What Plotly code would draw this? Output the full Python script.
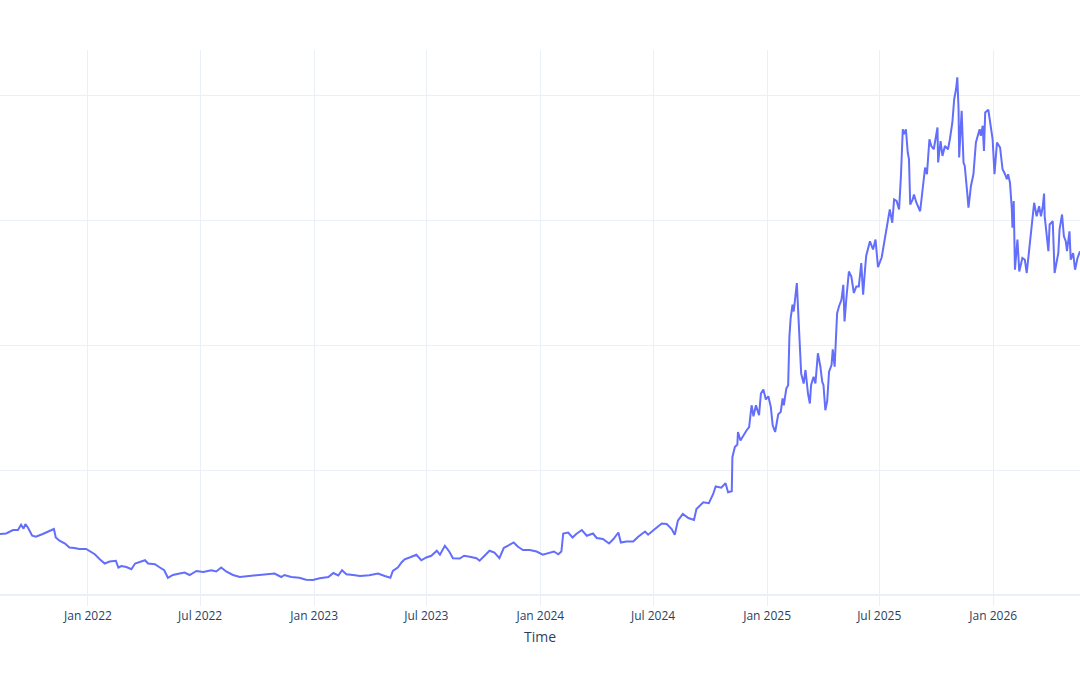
import plotly.graph_objects as go

dates = [
    "2021-08-12", "2021-08-22", "2021-09-02", "2021-09-10", "2021-09-15", "2021-09-19", "2021-09-22", "2021-09-26",
    "2021-10-03", "2021-10-09", "2021-10-20", "2021-10-31", "2021-11-07", "2021-11-10", "2021-11-16", "2021-11-25",
    "2021-12-02", "2021-12-10", "2021-12-18", "2021-12-29", "2022-01-04", "2022-01-12", "2022-01-20", "2022-01-28",
    "2022-02-05", "2022-02-15", "2022-02-19", "2022-02-24", "2022-03-04", "2022-03-12", "2022-03-18", "2022-03-26",
    "2022-04-03", "2022-04-08", "2022-04-19", "2022-04-27", "2022-05-04", "2022-05-10", "2022-05-18", "2022-05-29",
    "2022-06-06", "2022-06-14", "2022-06-25", "2022-07-06", "2022-07-19", "2022-07-27", "2022-08-04", "2022-08-12",
    "2022-08-23", "2022-09-03", "2022-09-16", "2022-09-30", "2022-10-16", "2022-10-29", "2022-11-09", "2022-11-14",
    "2022-11-25", "2022-12-08", "2022-12-19", "2022-12-30", "2023-01-10", "2023-01-24", "2023-02-01", "2023-02-09",
    "2023-02-15", "2023-02-22", "2023-03-05", "2023-03-16", "2023-03-31", "2023-04-14", "2023-04-25", "2023-05-04",
    "2023-05-08", "2023-05-16", "2023-05-22", "2023-05-27", "2023-06-04", "2023-06-15", "2023-06-23", "2023-07-01",
    "2023-07-09", "2023-07-18", "2023-07-23", "2023-07-31", "2023-08-07", "2023-08-13", "2023-08-24", "2023-08-31",
    "2023-09-09", "2023-09-20", "2023-09-25", "2023-10-03", "2023-10-11", "2023-10-19", "2023-10-27", "2023-11-03",
    "2023-11-10", "2023-11-19", "2023-11-26", "2023-12-04", "2023-12-15", "2023-12-26", "2024-01-05", "2024-01-14",
    "2024-01-23", "2024-01-30", "2024-02-04", "2024-02-07", "2024-02-15", "2024-02-22", "2024-02-28", "2024-03-08",
    "2024-03-16", "2024-03-26", "2024-04-01", "2024-04-11", "2024-04-21", "2024-04-28", "2024-05-06", "2024-05-10",
    "2024-05-19", "2024-05-30", "2024-06-07", "2024-06-18", "2024-06-23", "2024-07-04", "2024-07-15", "2024-07-23",
    "2024-07-31", "2024-08-05", "2024-08-10", "2024-08-18", "2024-08-27", "2024-09-05", "2024-09-09", "2024-09-20",
    "2024-09-29", "2024-10-06", "2024-10-10", "2024-10-19", "2024-10-26", "2024-10-30", "2024-11-05", "2024-11-06",
    "2024-11-10", "2024-11-14", "2024-11-15", "2024-11-19", "2024-11-22", "2024-11-29", "2024-12-03", "2024-12-07",
    "2024-12-10", "2024-12-14", "2024-12-19", "2024-12-22", "2024-12-26", "2024-12-30", "2025-01-03", "2025-01-07",
    "2025-01-10", "2025-01-14", "2025-01-19", "2025-01-23", "2025-01-26", "2025-01-28", "2025-02-01", "2025-02-04",
    "2025-02-06", "2025-02-08", "2025-02-11", "2025-02-13", "2025-02-18", "2025-02-22", "2025-02-25", "2025-03-01",
    "2025-03-04", "2025-03-08", "2025-03-11", "2025-03-13", "2025-03-17", "2025-03-20", "2025-03-24", "2025-03-28",
    "2025-03-31", "2025-04-02", "2025-04-05", "2025-04-08", "2025-04-11", "2025-04-15", "2025-04-17", "2025-04-20",
    "2025-04-24", "2025-04-27", "2025-05-01", "2025-05-04", "2025-05-06", "2025-05-09", "2025-05-13", "2025-05-17",
    "2025-05-21", "2025-05-25", "2025-05-29", "2025-06-02", "2025-06-05", "2025-06-08", "2025-06-10", "2025-06-16",
    "2025-06-21", "2025-06-25", "2025-06-29", "2025-07-05", "2025-07-10", "2025-07-15", "2025-07-18", "2025-07-22",
    "2025-07-25", "2025-07-29", "2025-08-02", "2025-08-05", "2025-08-08", "2025-08-10", "2025-08-13", "2025-08-16",
    "2025-08-18", "2025-08-20", "2025-08-24", "2025-08-26", "2025-08-30", "2025-09-05", "2025-09-10", "2025-09-13",
    "2025-09-16", "2025-09-20", "2025-09-23", "2025-09-27", "2025-10-03", "2025-10-04", "2025-10-08", "2025-10-11",
    "2025-10-15", "2025-10-20", "2025-10-23", "2025-10-27", "2025-10-30", "2025-11-02", "2025-11-04", "2025-11-06",
    "2025-11-07", "2025-11-11", "2025-11-14", "2025-11-16", "2025-11-20", "2025-11-22", "2025-11-26", "2025-11-30",
    "2025-12-04", "2025-12-10", "2025-12-12", "2025-12-15", "2025-12-17", "2025-12-19", "2025-12-24", "2025-12-28",
    "2025-12-31", "2026-01-03", "2026-01-07", "2026-01-12", "2026-01-16", "2026-01-20", "2026-01-23", "2026-01-25",
    "2026-01-28", "2026-01-31", "2026-02-01", "2026-02-03", "2026-02-05", "2026-02-09", "2026-02-12", "2026-02-17",
    "2026-02-21", "2026-02-24", "2026-02-28", "2026-03-06", "2026-03-08", "2026-03-12", "2026-03-16", "2026-03-19",
    "2026-03-22", "2026-03-24", "2026-03-25", "2026-03-31", "2026-04-02", "2026-04-07", "2026-04-10", "2026-04-16",
    "2026-04-18", "2026-04-22", "2026-04-25", "2026-04-28", "2026-04-30", "2026-05-04", "2026-05-06", "2026-05-10",
    "2026-05-13", "2026-05-17", "2026-05-21",
]

values = [
    24.4, 24.6, 26.0, 26.0, 28.1, 26.5, 28.4, 27.0,
    23.7, 23.3, 24.4, 25.7, 26.4, 23.0, 21.7, 20.6,
    19.0, 18.8, 18.4, 18.4, 17.4, 16.3, 14.3, 12.6,
    13.4, 13.7, 11.0, 11.6, 11.2, 10.3, 12.6, 13.4,
    13.9, 12.6, 12.3, 11.0, 9.9, 6.9, 8.0, 8.6,
    9.0, 8.0, 9.6, 9.2, 9.9, 9.4, 11.0, 9.4,
    8.0, 7.2, 7.5, 7.8, 8.0, 8.6, 7.2, 8.0,
    7.2, 6.9, 6.1, 6.0, 6.7, 7.2, 8.8, 7.8,
    9.9, 8.3, 8.0, 7.6, 7.9, 8.6, 7.6, 6.9,
    9.6, 11.0, 13.0, 14.3, 15.0, 16.1, 13.9, 15.0,
    15.7, 17.7, 16.1, 19.7, 17.4, 14.7, 14.6, 15.7,
    15.3, 14.7, 13.7, 15.7, 17.7, 17.0, 14.7, 18.8,
    19.7, 21.0, 19.3, 18.0, 18.0, 17.4, 16.1, 16.6,
    17.4, 16.3, 17.4, 24.6, 25.0, 23.0, 24.4, 26.0,
    23.7, 24.6, 22.8, 22.4, 20.6, 22.4, 25.0, 21.0,
    21.4, 21.4, 23.3, 25.4, 24.1, 26.4, 28.6, 28.4,
    26.4, 24.1, 29.7, 32.4, 30.8, 30.0, 34.4, 37.1,
    36.7, 40.4, 43.4, 42.9, 44.7, 41.1, 41.5, 55.1,
    59.2, 60.2, 65.2, 61.8, 63.2, 65.9, 67.2, 75.9,
    71.5, 75.9, 71.9, 80.6, 82.2, 78.2, 79.5, 75.2,
    67.9, 65.2, 72.3, 73.2, 78.6, 75.9, 82.6, 83.9,
    103.3, 110.7, 116.1, 113.4, 124.8, 102.0, 88.6, 84.6,
    90.0, 80.6, 76.6, 83.9, 87.3, 84.6, 96.7, 91.3,
    85.3, 83.9, 73.9, 77.6, 89.3, 92.0, 98.3, 91.3,
    112.7, 115.4, 118.1, 124.1, 109.4, 118.8, 129.4, 127.4,
    120.8, 123.4, 123.4, 132.8, 120.1, 130.1, 135.7, 141.5,
    138.2, 142.2, 131.1, 135.1, 142.2, 148.9, 154.2, 148.9,
    158.2, 157.6, 154.2, 167.6, 186.3, 184.3, 186.3, 177.0,
    174.3, 156.2, 158.2, 160.2, 156.9, 153.5, 164.9, 171.0,
    168.3, 182.3, 179.6, 178.3, 187.0, 173.0, 181.6, 175.6,
    179.6, 178.3, 182.3, 189.0, 198.4, 202.4, 207.1, 194.4,
    175.0, 193.7, 173.0, 171.6, 160.9, 154.9, 163.6, 168.3,
    181.0, 186.3, 183.7, 187.7, 177.6, 193.0, 194.1, 187.7,
    182.3, 168.3, 181.0, 179.0, 170.3, 168.3, 166.3, 168.3,
    164.9, 154.2, 146.9, 157.6, 130.1, 142.2, 129.4, 134.8,
    134.1, 128.8, 138.2, 152.9, 156.9, 151.5, 155.5, 151.5,
    155.5, 160.6, 151.5, 137.5, 148.2, 149.5, 128.8, 136.8,
    146.2, 152.2, 143.5, 141.5, 137.5, 145.5, 134.1, 136.8,
    130.1, 134.8, 137.5,
]

x_title = "Time"

fig = go.Figure()
fig.add_trace(go.Scatter(
    x=dates, y=values, mode="lines",
    line=dict(color="#636efa", width=2),
    showlegend=False,
))

fig.update_layout(
    template="plotly_white",
    width=1080, height=675,
    margin=dict(l=0, r=0, t=50, b=80),
    xaxis=dict(
        title=dict(text=x_title, standoff=8),
        showgrid=True,
        ticks="outside",
        ticklen=10,
        tickcolor="#EBF0F8",
    ),
    yaxis=dict(showticklabels=False, rangemode="tozero", title=None),
)

fig.write_html("out.html")
